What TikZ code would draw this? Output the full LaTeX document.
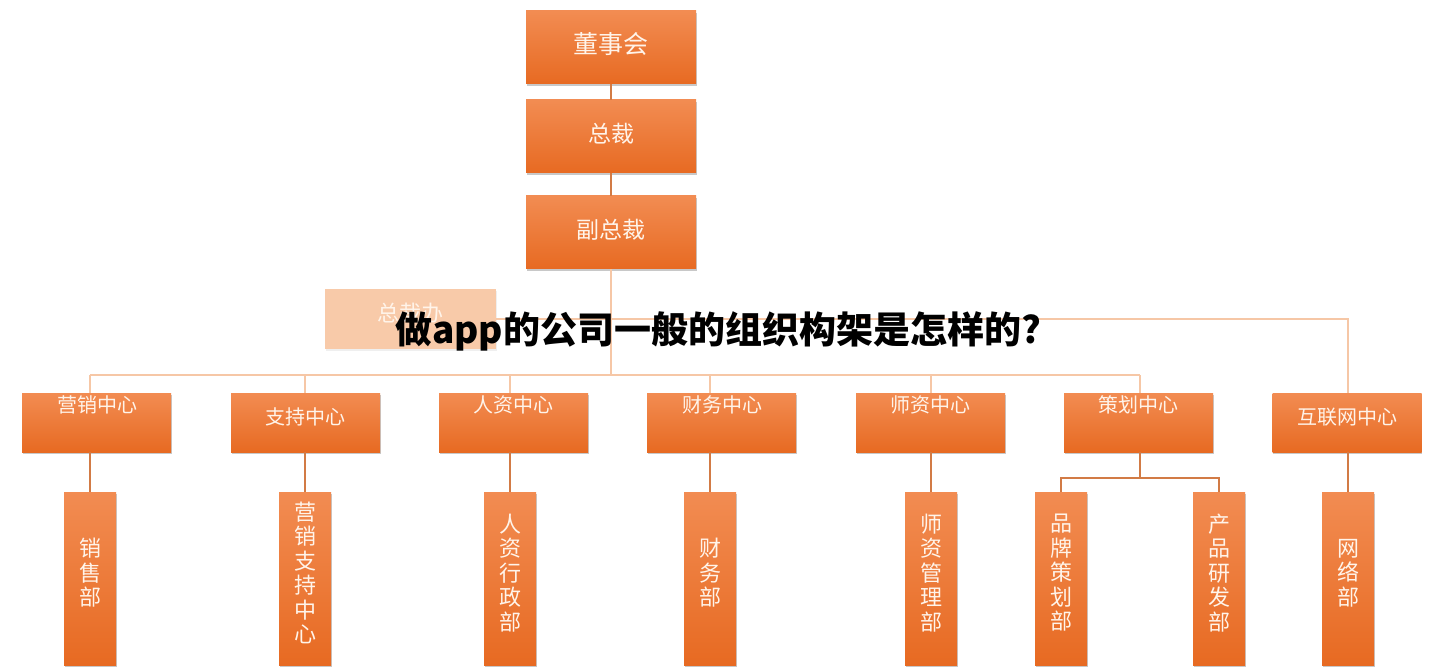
\documentclass[tikz,border=0pt]{standalone}
\usepackage{fontspec}
\setmainfont{Noto Sans CJK SC}
\usetikzlibrary{shadows}
\definecolor{otop}{HTML}{F28C52}
\definecolor{obot}{HTML}{E76A22}
\definecolor{txt}{HTML}{FFF4EA}
\definecolor{lline}{HTML}{F6C7A6}
\definecolor{dline}{HTML}{D27B45}
\definecolor{fade}{HTML}{F8CAA9}
\tikzset{
  box/.style={draw=none, top color=otop, bottom color=obot, inner sep=0pt,
    drop shadow={shadow xshift=0.6pt, shadow yshift=-2.2pt, opacity=0.3, fill=black!70}},
  bigbox/.style={box, minimum width=170pt, minimum height=73pt},
  midbox/.style={box, minimum width=149pt, minimum height=59pt},
  lowbox/.style={box, minimum width=52pt, minimum height=173pt},
  boxtext/.style={text=txt, inner sep=0pt},
  vtext/.style={text=txt, inner sep=0pt, align=center, font=\fontsize{22}{24.5}\selectfont},
  light/.style={draw=lline, line width=1.6pt},
  darkl/.style={draw=dline, line width=1.8pt},
}
\begin{document}
\begin{tikzpicture}[x=1pt,y=-1pt]
\useasboundingbox (0,0) rectangle (1432,668);
\fill[white] (0,0) rectangle (1432,668);

% top boxes
\node[bigbox] (dsh) at (611,47.5) {};
\node[boxtext, font=\fontsize{25}{28}\selectfont] (dsht) at (611,44) {董事会};
\node[bigbox] (zc) at (611,136.5) {};
\node[boxtext, font=\fontsize{23}{26}\selectfont] (zct) at (611,134) {总裁};
\node[bigbox] (fzc) at (611,232.5) {};
\node[boxtext, font=\fontsize{23}{26}\selectfont] (fzct) at (611,230) {副总裁};

% faded assistant office
\node[draw=none, fill=fade, minimum width=171pt, minimum height=60pt, inner sep=0pt,
  drop shadow={shadow xshift=0.6pt, shadow yshift=-2pt, opacity=0.12, fill=black!50}] (zcb) at (410.5,319) {};
\node[boxtext, font=\fontsize{22}{25}\selectfont] (zcbt) at (410,313) {总裁办};

% middle row
\node[midbox] (m1) at (96.5,422.5) {};
\node[midbox] (m2) at (305.5,422.5) {};
\node[midbox] (m3) at (513.5,422.5) {};
\node[midbox] (m4) at (721.5,422.5) {};
\node[midbox] (m5) at (930.5,422.5) {};
\node[midbox] (m6) at (1138.5,422.5) {};
\node[midbox] (m7) at (1347,422.5) {};
\tikzset{mtxt/.style={boxtext, font=\fontsize{20}{23}\selectfont}}
\node[mtxt] (m1t) at (97,405) {营销中心};
\node[mtxt] (m2t) at (305,417) {支持中心};
\node[mtxt] (m3t) at (513,405) {人资中心};
\node[mtxt] (m4t) at (722,405) {财务中心};
\node[mtxt] (m5t) at (930,405) {师资中心};
\node[mtxt] (m6t) at (1138,405) {策划中心};
\node[mtxt] (m7t) at (1347,417) {互联网中心};

% bottom row
\node[lowbox] (b1) at (90,578.5) {};
\node[lowbox] (b2) at (305,578.5) {};
\node[lowbox] (b3) at (510,578.5) {};
\node[lowbox] (b4) at (710,578.5) {};
\node[lowbox] (b5) at (931,578.5) {};
\node[lowbox] (b6) at (1061,578.5) {};
\node[lowbox] (b7) at (1219,578.5) {};
\node[lowbox] (b8) at (1348,578.5) {};
\node[vtext] (b1t) at (90,573) {销\\售\\部};
\node[vtext] (b2t) at (305,573) {营\\销\\支\\持\\中\\心};
\node[vtext] (b3t) at (510,573) {人\\资\\行\\政\\部};
\node[vtext] (b4t) at (710,573) {财\\务\\部};
\node[vtext] (b5t) at (931,573) {师\\资\\管\\理\\部};
\node[vtext] (b6t) at (1061,573) {品\\牌\\策\\划\\部};
\node[vtext] (b7t) at (1219,573) {产\\品\\研\\发\\部};
\node[vtext] (b8t) at (1348,573) {网\\络\\部};

% coordinates
\coordinate (bus) at (611,375);
\coordinate (split) at (1140,478);

% connectors top
\draw[darkl, line width=1.5pt] (dsh) -- (zc);
\draw[darkl, line width=1.5pt] (zc) -- (fzc);
\draw[light] (fzc.south) -- (bus);
\draw[light] (zcb.east) -- (b8.north |- zcb.east) -- (b8.north |- m7.north);
\draw[light] (b1.north |- bus) -- (split |- bus);
\foreach \m/\b in {m1/b1,m2/b2,m3/b3,m4/b4,m5/b5}{
  \draw[light] (\b.north |- bus) -- (\b.north |- \m.north);
}
\draw[light] (split |- bus) -- (split |- m6.north);
% connectors bottom
\foreach \m/\b in {m1/b1,m2/b2,m3/b3,m4/b4,m5/b5,m7/b8}{
  \draw[darkl] (\b.north |- \m.south) -- (\b.north);
}
\draw[darkl] (split |- m6.south) -- (split);
\draw[darkl] (b6.north) |- (split) -| (b7.north);

% title overlay
\node[inner sep=0pt, font=\fontsize{37}{40}\selectfont\bfseries] (title) at (718,331) {做app的公司一般的组织构架是怎样的?};
\end{tikzpicture}
\end{document}
